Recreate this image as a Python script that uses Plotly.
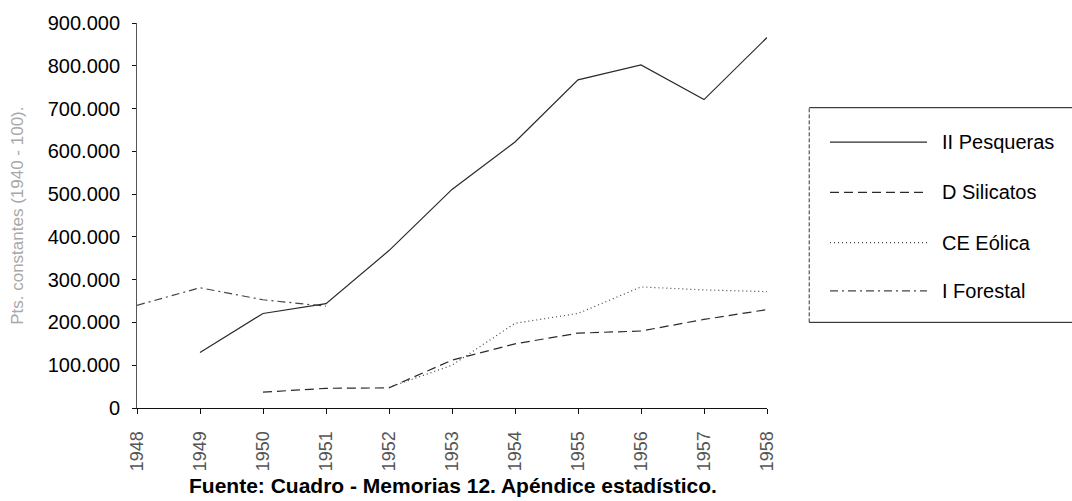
import plotly.graph_objects as go

# Series (pesetas constantes, base 1940 = 100)
years = [1948, 1949, 1950, 1951, 1952, 1953, 1954, 1955, 1956, 1957, 1958]
pesqueras = [None, 130000, 221000, 244000, 368000, 511000, 622000, 767000, 802000, 721000, 866000]
silicatos = [None, None, 37000, 46000, 47000, 112000, 150000, 175000, 180000, 207000, 230000]
eolica = [None, None, None, None, 48000, 100000, 198000, 221000, 283000, 276000, 272000]
forestal = [240000, 281000, 253000, 238000, None, None, None, None, None, None, None]

series_names = ["II Pesqueras", "D Silicatos", "CE Eólica", "I Forestal"]
series_values = [pesqueras, silicatos, eolica, forestal]
series_dash = ["solid", "9px,5px", "1px,3px", "8px,4px,2px,4px"]
series_color = ["#2a2a2a", "#2a2a2a", "#444444", "#444444"]

y_ticks = [0, 100000, 200000, 300000, 400000, 500000, 600000, 700000, 800000, 900000]

FONT = "Liberation Sans, Arial, sans-serif"

fig = go.Figure()
for name, vals, dash, col in zip(series_names, series_values, series_dash, series_color):
    fig.add_trace(go.Scatter(
        x=years, y=vals, mode="lines", name=name,
        line=dict(color=col, width=1.2, dash=dash),
        connectgaps=False, showlegend=False,
    ))

# Boxed legend at the right, running off the page edge
leg_left, leg_right, leg_top, leg_bottom = 1.067, 1.5, 0.78, 0.2225
leg_rows = [0.6905, 0.560, 0.4297, 0.3043]
box = dict(type="line", xref="paper", yref="paper", line=dict(color="#111", width=1))
fig.add_shape(**box, x0=leg_left, x1=leg_right, y0=leg_top, y1=leg_top)
fig.add_shape(**box, x0=leg_left, x1=leg_right, y0=leg_bottom, y1=leg_bottom)
fig.add_shape(type="line", xref="paper", yref="paper", x0=leg_left, x1=leg_left,
              y0=leg_bottom, y1=leg_top, line=dict(color="#333", width=1, dash="4px,2px"))
for name, dash, col, yy in zip(series_names, series_dash, series_color, leg_rows):
    fig.add_shape(type="line", xref="paper", yref="paper", x0=1.1, x1=1.254, y0=yy, y1=yy,
                  line=dict(color=col, width=1.2, dash=dash))
    fig.add_annotation(x=1.2745, y=yy, xref="paper", yref="paper", text=name,
                       showarrow=False, xanchor="left", yanchor="middle",
                       font=dict(family=FONT, size=20, color="#000"))

# Axis title, drawn light and rotated
fig.add_annotation(x=-0.19, y=0.50, xref="paper", yref="paper",
                   text="Pts. constantes (1940 - 100).", textangle=-90, showarrow=False,
                   xanchor="center", yanchor="middle",
                   font=dict(family=FONT, size=17, color="#a8a8a8"))

# Source note
fig.add_annotation(x=0.5016, y=-0.2, xref="paper", yref="paper",
                   text="<b>Fuente: Cuadro - Memorias 12. Apéndice estadístico.</b>",
                   showarrow=False, xanchor="center", yanchor="middle",
                   font=dict(family=FONT, size=21, color="#000"))

fig.update_layout(
    width=1072, height=501,
    margin=dict(l=137, r=305, t=17, b=93),
    paper_bgcolor="white", plot_bgcolor="white",
    separators=",.",
    showlegend=False,
    xaxis=dict(
        range=[1948, 1958], tickmode="array", tickvals=years,
        ticktext=[str(y) for y in years], tickangle=-90,
        showgrid=False, zeroline=False, showline=True, linecolor="#111", linewidth=1,
        ticks="outside", ticklen=5, tickcolor="#111",
        ticklabelstandoff=10,
        tickfont=dict(family=FONT, size=18, color="#555"),
    ),
    yaxis=dict(
        range=[0, 900000], tickmode="array", tickvals=y_ticks, tickformat=",d",
        showgrid=False, zeroline=False, showline=True, linecolor="#555", linewidth=1,
        ticks="outside", ticklen=4, tickcolor="#111",
        ticklabelstandoff=8,
        tickfont=dict(family=FONT, size=20, color="#000"),
    ),
)

fig.write_html("out.html")
